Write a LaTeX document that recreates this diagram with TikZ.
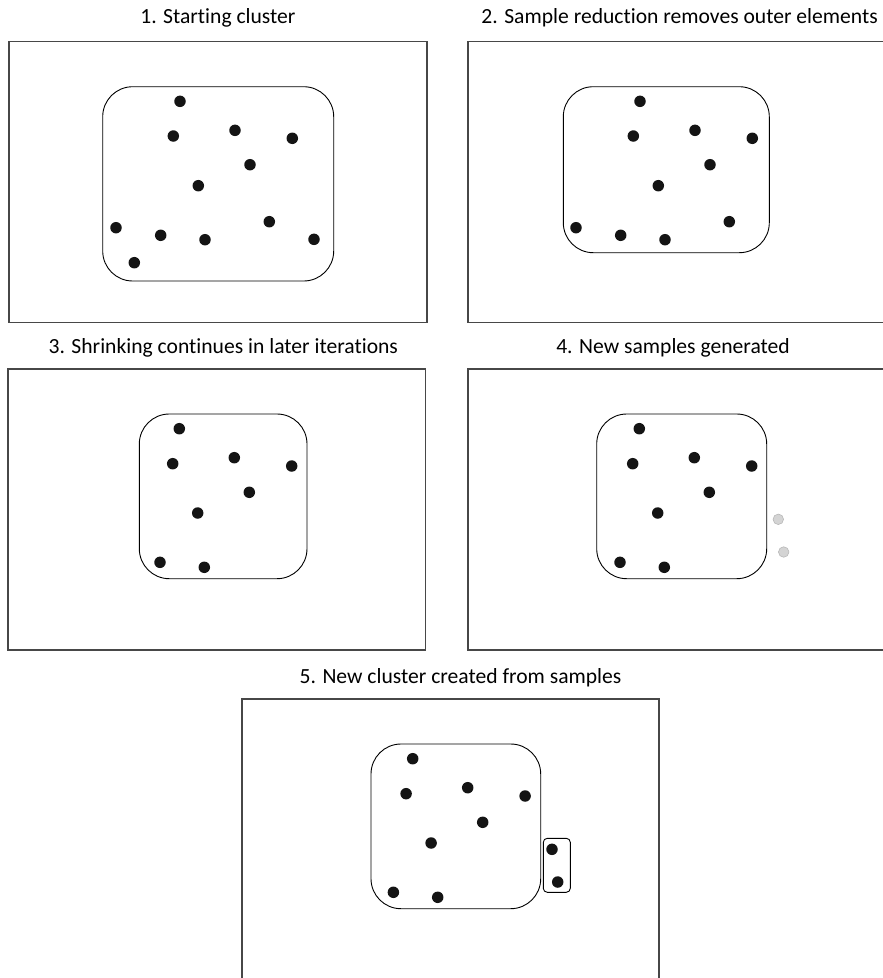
\documentclass[tikz,border=0pt]{standalone}
\usepackage{fontspec}
\setmainfont{Carlito}[Ligatures={NoCommon}]
\begin{document}
\begin{tikzpicture}[x=1pt,y=-1pt,
  frame/.style={draw=black!72,line width=1.2pt,rectangle,inner sep=0pt},
  clus/.style={draw=black,line width=0.9pt,rectangle,rounded corners=30pt,inner sep=0pt},
  small/.style={draw=black,line width=0.9pt,rectangle,rounded corners=4pt,inner sep=0pt},
  dot/.style={circle,fill=black!92,inner sep=0pt,minimum size=11.5pt},
  gdot/.style={circle,fill=black!17,draw=black!28,line width=0.6pt,inner sep=0pt,minimum size=10.5pt},
  ttl/.style={anchor=base,inner sep=0pt,font=\fontsize{21.6}{26}\selectfont}]
\useasboundingbox (0,0) rectangle (883,978);
% panels
\node[frame,minimum width=418pt,minimum height=280.6pt] (p1) at (218,182) {};
\node[frame,minimum width=418pt,minimum height=280.6pt] (p2) at (677,182) {};
\node[frame,minimum width=417.5pt,minimum height=281pt] (p3) at (216.8,509.5) {};
\node[frame,minimum width=418pt,minimum height=281pt] (p4) at (677,509.5) {};
\node[frame,minimum width=417pt,minimum height=300pt] (p5) at (450.5,849) {};
% titles
\node[ttl] (t1) at (217.9,23.3) {1. Starting cluster};
\node[ttl] (t2) at (679.6,23.3) {2. Sample reduction removes outer elements};
\node[ttl] (t3) at (223.3,353.3) {3. Shrinking continues in later iterations};
\node[ttl] (t4) at (673,353.3) {4. New samples generated};
\node[ttl] (t5) at (460.5,683.3) {5. New cluster created from samples};
% clusters
\node[clus,minimum width=231pt,minimum height=194.3pt] (c1) at (218.2,183.85) {};
\node[clus,minimum width=206pt,minimum height=166pt] (c2) at (666.3,169.7) {};
\node[clus,minimum width=167.7pt,minimum height=164.7pt] (c3) at (223.15,496.35) {};
\node[clus,minimum width=170pt,minimum height=164.7pt] (c4) at (681.7,496.35) {};
\node[clus,minimum width=169.7pt,minimum height=164.7pt] (c5) at (455.85,826.35) {};
\node[small,minimum width=27pt,minimum height=54pt] (s5) at (556.8,865.3) {};
% panel 1 dots
\foreach \x/\y [count=\i] in {180/101.3,173.3/136,235/130.3,292.3/138.3,250/164.7,198.3/185.7,116/227.7,160.7/235.3,205/239.7,269.3/221.7,314/239.3,134.3/262.7}
  \node[dot] (a\i) at (\x,\y) {};
% panel 2 dots
\foreach \x/\y [count=\i] in {180/101.3,173.3/136,235/130.3,292.3/138.3,250/164.7,198.3/185.7,116/227.7,160.7/235.3,205/239.7,269.3/221.7}
  \node[dot] (b\i) at (\x+460,\y) {};
% panel 3 dots
\foreach \x/\y [count=\i] in {179.3/428.7,172.7/463.7,234.3/457.7,291.7/466,249.3/492.3,197.7/513,160/562.3,204.3/567.3}
  \node[dot] (c\i) at (\x,\y) {};
% panel 4 dots
\foreach \x/\y [count=\i] in {179.3/428.7,172.7/463.7,234.3/457.7,291.7/466,249.3/492.3,197.7/513,160/562.3,204.3/567.3}
  \node[dot] (d\i) at (\x+460,\y) {};
\node[gdot] (g1) at (778.3,519.3) {};
\node[gdot] (g2) at (783.7,552) {};
% panel 5 dots
\foreach \x/\y [count=\i] in {179.3/428.7,172.7/463.7,234.3/457.7,291.7/466,249.3/492.3,197.7/513,160/562.3,204.3/567.3}
  \node[dot] (e\i) at (\x+233.4,\y+330) {};
\node[dot] (n1) at (552,849.3) {};
\node[dot] (n2) at (557.7,882) {};
\end{tikzpicture}
\end{document}
